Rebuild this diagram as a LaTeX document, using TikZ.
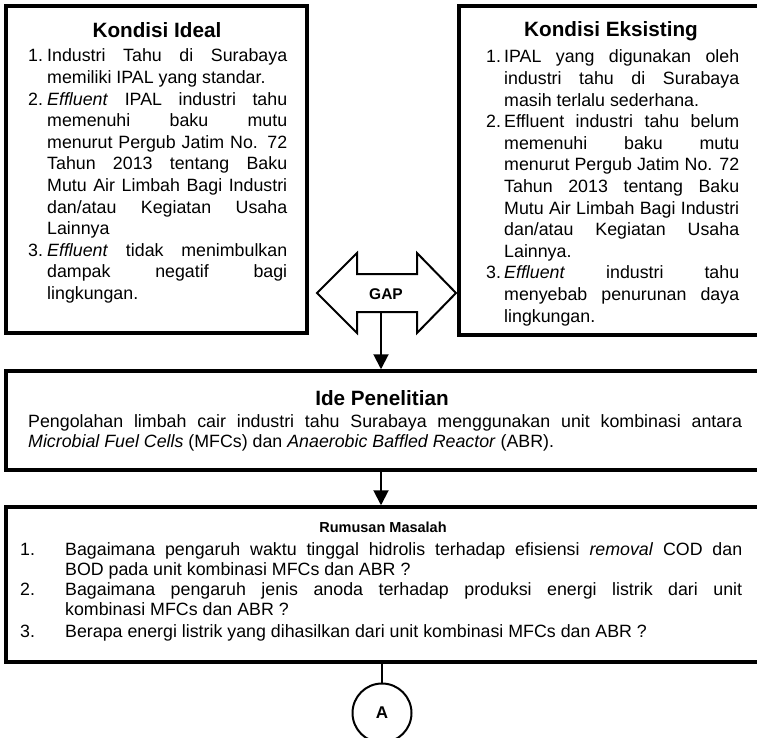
\documentclass[tikz,border=0pt]{standalone}
\usepackage{fontspec}
\setmainfont{Liberation Sans}
\usetikzlibrary{arrows.meta}

% line helpers: justified line, left line, list number
\newlength\tw
\newcommand\Jl[1]{\makebox[\tw][s]{#1}}
\newcommand\Ll[1]{\makebox[\tw][l]{#1}}
\newcommand\Nm[2]{\makebox[#1][l]{#2}}

\tikzset{
  frame/.style={draw=black, line width=3.5pt, inner sep=0pt},
  link/.style={draw=black, line width=2pt},
  flow/.style={link, -{Triangle[length=15pt,width=15pt]}},
  bodytext/.style={inner sep=0pt, anchor=base west, font=\fontsize{17.8}{21.6}\selectfont},
  lowtext/.style={inner sep=0pt, anchor=base west, font=\fontsize{17.8}{20.8}\selectfont},
  headtext/.style={inner sep=0pt, anchor=base, font=\fontsize{20.7}{24}\selectfont\bfseries},
  subhead/.style={inner sep=0pt, anchor=base, font=\fontsize{14.5}{17}\selectfont\bfseries},
}

\begin{document}
\begin{tikzpicture}[x=1pt,y=-1pt]
\useasboundingbox (0,0) rectangle (757,738);
\clip (0,0) rectangle (757,738);

% frames
\node[frame, minimum width=301pt, minimum height=327pt] (ideal) at (156.5,169.5) {};
\node[frame, minimum width=316pt, minimum height=329pt] (eksis) at (617,170.5) {};
\node[frame, minimum width=769pt, minimum height=99pt] (ide) at (390.5,420.5) {};
\node[frame, minimum width=769pt, minimum height=155pt] (rum) at (390.5,584.5) {};

% Kondisi Ideal
\node[headtext] (idealtitle) at (157,38) {Kondisi Ideal};
\node[bodytext] (idealtxt) at (28,62) {\setlength\tw{240pt}%
\begin{tabular}[t]{@{}l@{}l@{}}
\Nm{19pt}{1.} & \Jl{Industri Tahu di Surabaya}\\
 & \Ll{memiliki IPAL yang standar.}\\
\Nm{19pt}{2.} & \Jl{\textit{Effluent} IPAL industri tahu}\\
 & \Jl{memenuhi baku mutu}\\
 & \Jl{menurut Pergub Jatim No. 72}\\
 & \Jl{Tahun 2013 tentang Baku}\\
 & \Jl{Mutu Air Limbah Bagi Industri}\\
 & \Jl{dan/atau Kegiatan Usaha}\\
 & \Ll{Lainnya}\\
\Nm{19pt}{3.} & \Jl{\textit{Effluent} tidak menimbulkan}\\
 & \Jl{dampak negatif bagi}\\
 & \Ll{lingkungan.}
\end{tabular}};

% Kondisi Eksisting
\node[headtext] (eksistitle) at (611,37) {Kondisi Eksisting};
\node[bodytext] (eksistxt) at (486,63) {\setlength\tw{235pt}%
\begin{tabular}[t]{@{}l@{}l@{}}
\Nm{18pt}{1.} & \Jl{IPAL yang digunakan oleh}\\
 & \Jl{industri tahu di Surabaya}\\
 & \Ll{masih terlalu sederhana.}\\
\Nm{18pt}{2.} & \Jl{Effluent industri tahu belum}\\
 & \Jl{memenuhi baku mutu}\\
 & \Jl{menurut Pergub Jatim No. 72}\\
 & \Jl{Tahun 2013 tentang Baku}\\
 & \Jl{Mutu Air Limbah Bagi Industri}\\
 & \Jl{dan/atau Kegiatan Usaha}\\
 & \Ll{Lainnya.}\\
\Nm{18pt}{3.} & \Jl{\textit{Effluent} industri tahu}\\
 & \Jl{menyebab penurunan daya}\\
 & \Ll{lingkungan.}
\end{tabular}};

% GAP double arrow
\draw[link, fill=white] (317,293) -- (357,253) -- (357,274) -- (417,274) -- (417,253)
  -- (456,293) -- (417,333) -- (417,312) -- (357,312) -- (357,333) -- cycle;
\node[inner sep=0pt, font=\fontsize{15.5}{18}\selectfont\bfseries] (gap) at (386,294) {GAP};
\coordinate (gapfoot) at (381,312);

% Ide Penelitian
\node[headtext] (idetitle) at (382,405) {Ide Penelitian};
\node[lowtext] (idetxt) at (28,427) {\setlength\tw{714pt}%
\begin{tabular}[t]{@{}l@{}}
\Jl{Pengolahan limbah cair industri tahu Surabaya menggunakan unit kombinasi antara}\\
\Ll{\textit{Microbial Fuel Cells} (MFCs) dan \textit{Anaerobic Baffled Reactor} (ABR).}
\end{tabular}};

% Rumusan Masalah
\node[subhead] (rumtitle) at (383,532) {Rumusan Masalah};
\node[lowtext] (rumtxt) at (20,555) {\setlength\tw{677pt}%
\begin{tabular}[t]{@{}l@{}l@{}}
\Nm{45pt}{1.} & \Jl{Bagaimana pengaruh waktu tinggal hidrolis terhadap efisiensi \textit{removal} COD dan}\\[-0.8pt]
 & \Ll{BOD pada unit kombinasi MFCs dan ABR ?}\\[-0.8pt]
\Nm{45pt}{2.} & \Jl{Bagaimana pengaruh jenis anoda terhadap produksi energi listrik dari unit}\\[-0.8pt]
 & \Ll{kombinasi MFCs dan ABR ?}\\[2pt]
\Nm{45pt}{3.} & \Ll{Berapa energi listrik yang dihasilkan dari unit kombinasi MFCs dan ABR ?}
\end{tabular}};

% connector circle
\node[circle, draw=black, line width=2pt, minimum size=59pt, inner sep=0pt,
  font=\fontsize{17}{20}\selectfont\bfseries] (A) at (382,713) {A};

% connectors
\draw[flow] (gapfoot) -- (ide.north -| gapfoot);
\draw[flow] (ide.south -| gapfoot) -- (rum.north -| gapfoot);
\draw[link] (rum.south -| A) -- (A.north);
\end{tikzpicture}
\end{document}
